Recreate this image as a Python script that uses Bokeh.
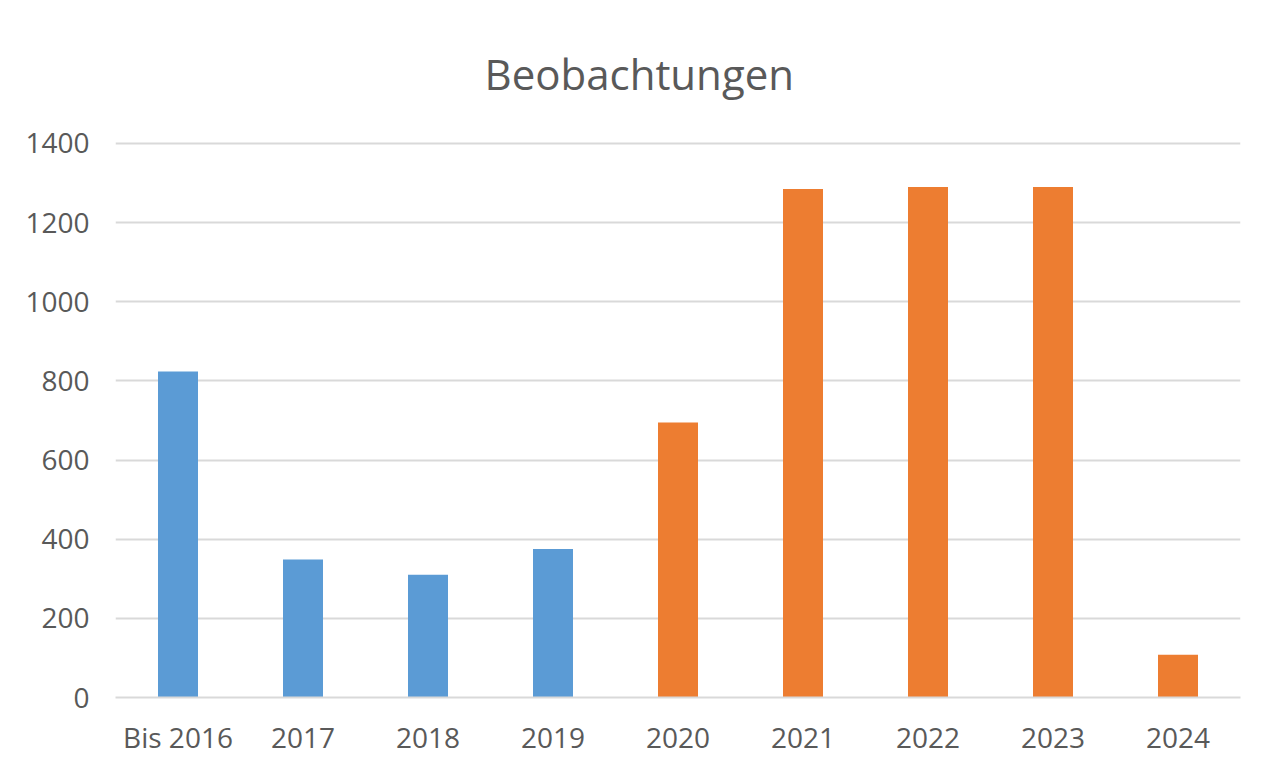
from bokeh.plotting import figure
from bokeh.models import ColumnDataSource, FixedTicker, Range1d, FactorRange, Title
from bokeh.embed import file_html
from bokeh.resources import INLINE

categories = ["Bis 2016", "2017", "2018", "2019", "2020", "2021", "2022", "2023", "2024"]
values = [824, 349, 310, 375, 695, 1285, 1290, 1290, 108]
colors = ["#5B9BD5"] * 4 + ["#ED7D31"] * 5
y_ticks = [0, 200, 400, 600, 800, 1000, 1200, 1400]

FONT = "Open Sans"
TEXT = "#595959"
GRID = "#D9D9D9"

src = ColumnDataSource(dict(cat=categories, val=values, color=colors))

p = figure(
    width=1248, height=759, output_backend="svg", toolbar_location=None,
    x_range=FactorRange(*categories, range_padding=0),
    y_range=Range1d(0, 1405),
    min_border_left=115, min_border_right=8, min_border_top=141, min_border_bottom=62,
)
p.outline_line_color = None
p.background_fill_color = "white"
p.border_fill_color = "white"

p.vbar(x="cat", top="val", width=0.32, color="color", source=src, line_color=None)

p.title = Title(text="Beobachtungen", text_font=FONT, text_font_size="42px",
                text_color=TEXT, text_font_style="normal", align="left",
                offset=369, standoff=79)

p.xgrid.grid_line_color = None
p.ygrid.grid_line_color = GRID
p.ygrid.grid_line_width = 2
p.yaxis.ticker = FixedTicker(ticks=y_ticks)

for ax in (p.xaxis, p.yaxis):
    ax.major_tick_line_color = None
    ax.minor_tick_line_color = None
    ax.major_label_text_font = FONT
    ax.major_label_text_font_size = "28px"
    ax.major_label_text_color = TEXT
p.yaxis.axis_line_color = None
p.xaxis.axis_line_color = GRID
p.xaxis.axis_line_width = 2
p.yaxis.major_label_standoff = 20
p.xaxis.major_label_standoff = 14

open("out.html", "w").write(file_html(p, INLINE))
